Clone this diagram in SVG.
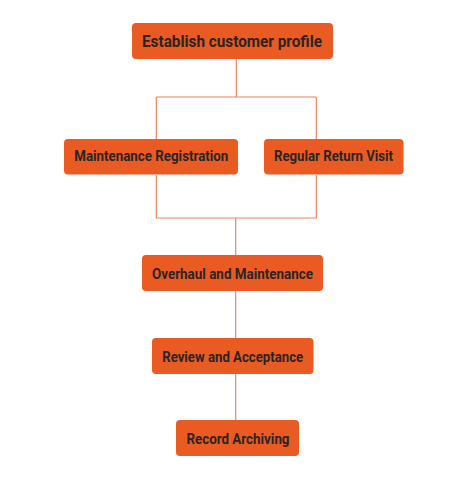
<svg xmlns="http://www.w3.org/2000/svg" width="476" height="485" viewBox="0 0 476 485">
<style>
.box{fill:#EA5B24;}
.lbl{font-family:Roboto,"Open Sans",sans-serif;font-weight:bold;font-size:15px;fill:#2A2523;text-anchor:middle;}
.t{font-size:16px;}
.ln{fill:none;stroke:#EE8660;stroke-width:1.2;}
</style>
<rect width="476" height="485" fill="#FFFFFF"/>
<g id="connectors">
<path class="ln" d="M236.3,59 V97 M156.3,97 H316.3 M156.3,97 V139 M316.3,97 V139"/>
<path class="ln" d="M156.3,175 V218 H316.3 V175 M235.7,218 V255"/>
<path class="ln" d="M235.7,291 V338 M235.7,374 V420"/>
</g>
<g id="n1"><rect class="box" x="132" y="23" width="201" height="36" rx="4"/><text class="lbl t" x="232" y="47.3" textLength="180" lengthAdjust="spacingAndGlyphs">Establish customer profile</text></g>
<g id="n2"><rect class="box" x="64" y="139" width="174" height="35.5" rx="4"/><text class="lbl" x="151.3" y="160.5" textLength="154" lengthAdjust="spacingAndGlyphs">Maintenance Registration</text></g>
<g id="n3"><rect class="box" x="264" y="139" width="139.5" height="35.5" rx="4"/><text class="lbl" x="333.5" y="160.5" textLength="119" lengthAdjust="spacingAndGlyphs">Regular Return Visit</text></g>
<g id="n4"><rect class="box" x="142" y="255" width="181" height="36" rx="4"/><text class="lbl" x="232.5" y="278.8" textLength="161" lengthAdjust="spacingAndGlyphs">Overhaul and Maintenance</text></g>
<g id="n5"><rect class="box" x="152" y="338" width="161.5" height="36" rx="4"/><text class="lbl" x="232.7" y="361.5" textLength="141" lengthAdjust="spacingAndGlyphs">Review and Acceptance</text></g>
<g id="n6"><rect class="box" x="176" y="420" width="123" height="36" rx="4"/><text class="lbl" x="238" y="444.2" textLength="103" lengthAdjust="spacingAndGlyphs">Record Archiving</text></g>
</svg>
